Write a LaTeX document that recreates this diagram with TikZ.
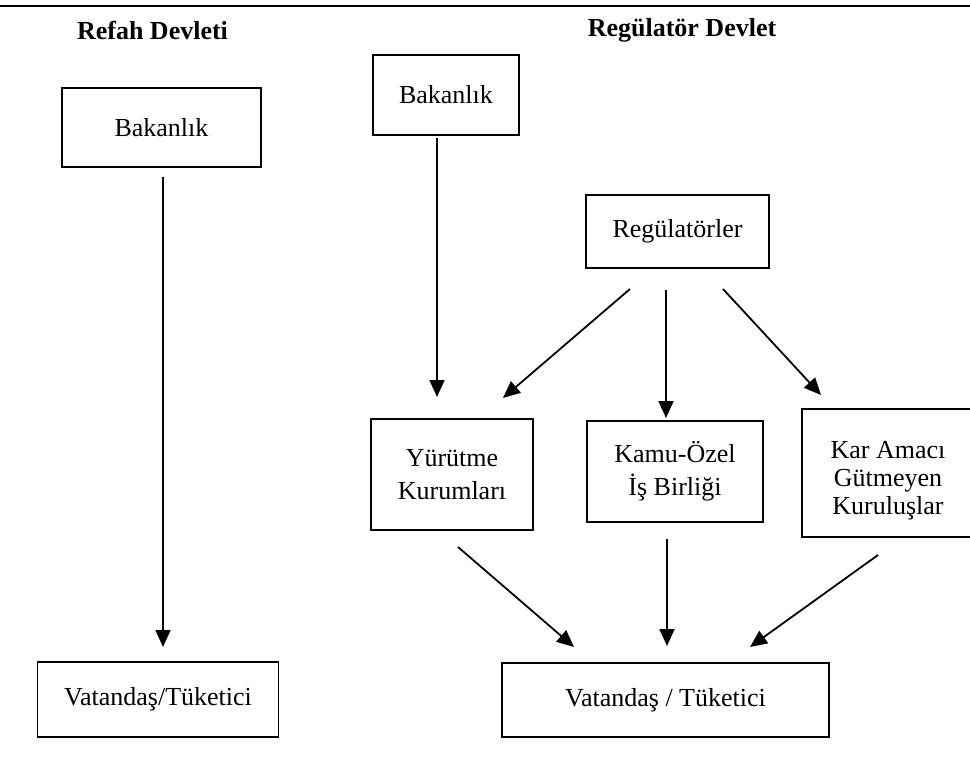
\documentclass[tikz,border=0pt]{standalone}
\usepackage{fontspec}
\setmainfont{Liberation Serif}
\usetikzlibrary{arrows.meta}
\begin{document}
\begin{tikzpicture}[x=1pt,y=-1pt,
  box/.style={draw, line width=1.4pt, rectangle, inner sep=0pt, align=center,
    font=\fontsize{26}{33}\selectfont},
  head/.style={font=\fontsize{26}{30}\selectfont\bfseries, inner sep=0pt},
  arr/.style={line width=1.8pt, -{Triangle[length=17pt,width=15pt]}}]
\useasboundingbox (0,0) rectangle (970,760);
\coordinate (tl) at (0,6);
\coordinate (tr) at (970,6);
\draw[line width=2.5pt] (tl) -- (tr);
\node[head] (h1) at (152.5,30) {Refah Devleti};
\node[head] (h2) at (682,30) {Regülatör Devlet};
\node[box, minimum width=199pt, minimum height=79pt] (bak1) at (161.5,127.5) {Bakanlık};
\node[box, minimum width=241pt, minimum height=75pt] (vat1) at (158,699.5) {Vatandaş/Tüketici};
\node[box, minimum width=146pt, minimum height=80pt] (bak2) at (446,95) {Bakanlık};
\node[box, minimum width=183pt, minimum height=73pt] (reg) at (677.5,231.5) {Regülatörler};
\node[box, minimum width=162pt, minimum height=111pt] (yur) at (452,474.5) {Yürütme\\Kurumları};
\node[box, minimum width=176pt, minimum height=101pt] (kamu) at (675,471.5) {Kamu-Özel\\İş Birliği};
\node[box, minimum width=172pt, minimum height=128pt] (kar) at (888,473) {};
\node[align=center, inner sep=0pt, font=\fontsize{26}{28}\selectfont] (kartxt) at (888,481) {Kar Amacı\\Gütmeyen\\Kuruluşlar};
\node[box, minimum width=327pt, minimum height=74pt] (vat2) at (665.5,700) {Vatandaş / Tüketici};
% arrow ends
\coordinate (s1) at (163,177);  \coordinate (e1) at (163,647);
\coordinate (s2) at (437,138);  \coordinate (e2) at (437,397);
\coordinate (s3) at (630,289);  \coordinate (e3) at (503,398);
\coordinate (s4) at (666,290);  \coordinate (e4) at (666,418);
\coordinate (s5) at (723,289);  \coordinate (e5) at (821,395);
\coordinate (s6) at (458,547);  \coordinate (e6) at (574,647);
\coordinate (s7) at (667,539);  \coordinate (e7) at (667,646);
\coordinate (s8) at (878,555);  \coordinate (e8) at (750,647);
\draw[arr] (s1) -- (e1);
\draw[arr] (s2) -- (e2);
\draw[arr] (s3) -- (e3);
\draw[arr] (s4) -- (e4);
\draw[arr] (s5) -- (e5);
\draw[arr] (s6) -- (e6);
\draw[arr] (s7) -- (e7);
\draw[arr] (s8) -- (e8);
\end{tikzpicture}
\end{document}
